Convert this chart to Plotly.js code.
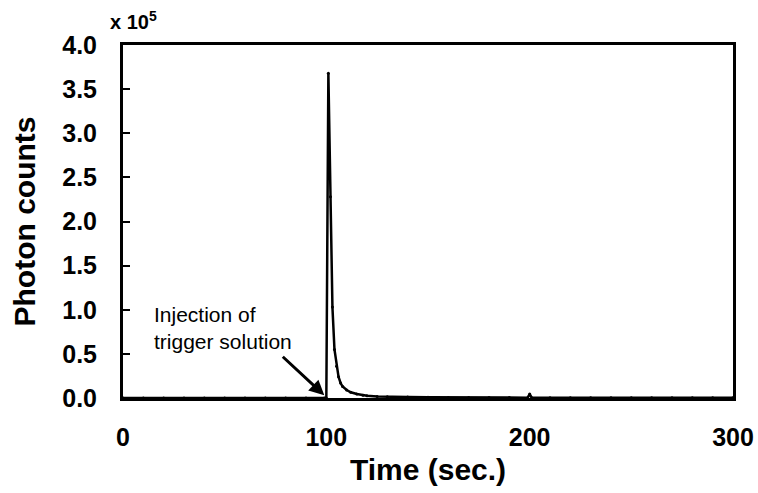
<!DOCTYPE html>
<html>
<head>
<meta charset="utf-8">
<script src="https://cdn.plot.ly/plotly-3.0.1.min.js"></script>
<style>html,body{margin:0;padding:0;background:#fff;}#chart{width:758px;height:493px;}</style>
</head>
<body>
<div id="chart"></div>
<script>
// Time (sec.)
const timeSec = [0,10,20,30,40,50,60,70,80,90,99,100,101,102,103,104,105,106,107,108,110,112,115,118,120,125,130,140,150,160,170,180,190,199,200,201,210,220,230,240,250,260,270,280,290,300];
// Photon counts (x 10^5)
const photonCounts = [0,0,0,0,0,0,0,0,0,0,0,0,3.68,2.28,1.03,0.55,0.36,0.24,0.17,0.13,0.09,0.065,0.045,0.032,0.026,0.018,0.014,0.01,0.008,0.007,0.006,0.005,0.005,0.004,0.045,0.004,0.004,0.003,0.003,0.003,0.003,0.002,0.002,0.002,0.002,0.002];
const yTicks = [0,0.5,1,1.5,2,2.5,3,3.5,4];
const xTicks = [0,100,200,300];

const font = 'Liberation Sans, Arial, sans-serif';
const trace = {
  x: timeSec, y: photonCounts, type: 'scatter', mode: 'lines+markers',
  line: {color: '#000', width: 2.5},
  marker: {color: '#000', size: 3},
  showlegend: false, hoverinfo: 'none'
};
const layout = {
  width: 758, height: 493,
  margin: {l: 123, r: 25, t: 45, b: 95},
  paper_bgcolor: '#fff', plot_bgcolor: '#fff',
  font: {family: font, color: '#000'},
  xaxis: {
    range: [0, 300], tickvals: xTicks, ticktext: xTicks.map(v => '<b>' + v + '</b>'),
    showgrid: false, zeroline: false, showline: true, linecolor: '#000', linewidth: 3, mirror: true,
    ticks: '', ticklabelstandoff: 15,
    tickfont: {family: font, size: 25, color: '#000', weight: 700},
    title: {text: '<b>Time (sec.)</b>', font: {family: font, size: 30, color: '#000'}, standoff: 9}
  },
  yaxis: {
    range: [0, 4], tickvals: yTicks, ticktext: yTicks.map(v => '<b>' + v.toFixed(1) + '</b>'),
    showgrid: false, zeroline: false, showline: true, linecolor: '#000', linewidth: 3, mirror: true,
    ticks: 'inside', ticklen: 7, tickwidth: 2, tickcolor: '#000', ticklabelstandoff: 18,
    tickfont: {family: font, size: 25, color: '#000', weight: 700},
    title: {text: '<b>Photon counts</b>', font: {family: font, size: 30, color: '#000'}, standoff: 18}
  },
  annotations: [
    {xref: 'paper', yref: 'paper', x: -0.025, y: 1.068, xanchor: 'left', yanchor: 'middle',
     text: '<b>x 10<sup>5</sup></b>', showarrow: false, font: {family: font, size: 20, color: '#000'}},
    {xref: 'x', yref: 'y', x: 14.5, y: 0.79, xanchor: 'left', yanchor: 'middle', align: 'left',
     text: 'Injection of<br>trigger solution', showarrow: false, font: {family: font, size: 21, color: '#000'}},
    {xref: 'x', yref: 'y', x: 99, y: 0.03, ax: -43, ay: -40, text: '', showarrow: true,
     arrowhead: 2, arrowsize: 1, arrowwidth: 3, arrowcolor: '#000'}
  ]
};
Plotly.newPlot('chart', [trace], layout, {displayModeBar: false, staticPlot: true});
</script>
</body>
</html>
